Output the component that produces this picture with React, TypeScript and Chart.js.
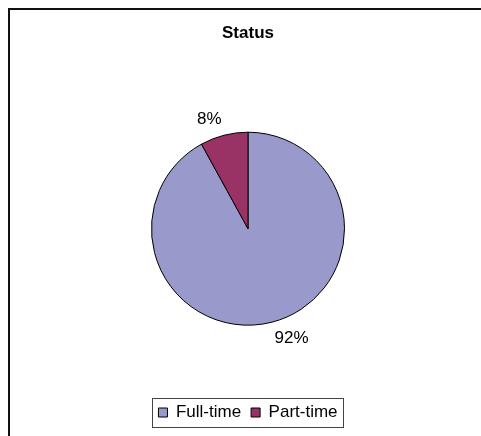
import React, { useEffect, useRef } from "react";
import { Chart, registerables } from "chart.js";

Chart.register(...registerables);

const categories = ["Full-time", "Part-time"];
const values = [92, 8];
const percentLabels = ["92%", "8%"];
const sliceColors = ["#9999CC", "#993366"];
const chartTitle = "Status";

const FONT = "'Liberation Sans', Arial, sans-serif";

const outsideLabels = {
  id: "outsideLabels",
  afterDatasetsDraw(chart: any) {
    const ctx = chart.ctx;
    const meta = chart.getDatasetMeta(0);
    ctx.save();
    ctx.font = `17px ${FONT}`;
    ctx.fillStyle = "#000";
    ctx.textAlign = "center";
    ctx.textBaseline = "middle";
    meta.data.forEach((arc: any, i: number) => {
      const p = arc.getProps(["x", "y", "startAngle", "endAngle", "outerRadius"], true);
      const mid = (p.startAngle + p.endAngle) / 2;
      const dx = Math.cos(mid);
      const dy = Math.sin(mid);
      const r = p.outerRadius + 10;
      const text = percentLabels[i];
      const w = ctx.measureText(text).width;
      const tx = p.x + dx * r + Math.sign(dx) * w / 2;
      const ty = p.y + dy * r + Math.sign(dy) * 6;
      ctx.fillText(text, tx, ty);
    });
    ctx.restore();
  },
};

const legendFrame = {
  id: "legendFrame",
  afterDraw(chart: any) {
    const lg = chart.legend;
    if (!lg || !lg.legendHitBoxes || !lg.legendHitBoxes.length) return;
    const boxes = lg.legendHitBoxes;
    let minX = Infinity, maxX = -Infinity, minY = Infinity, maxY = -Infinity;
    boxes.forEach((b: any) => {
      minX = Math.min(minX, b.left);
      maxX = Math.max(maxX, b.left + b.width);
      minY = Math.min(minY, b.top);
      maxY = Math.max(maxY, b.top + b.height);
    });
    const ctx = chart.ctx;
    ctx.save();
    ctx.strokeStyle = "#444";
    ctx.lineWidth = 1;
    ctx.strokeRect(Math.round(minX - 6) + 0.5, Math.round(minY - 6) + 0.5, Math.round(maxX - minX + 12), Math.round(maxY - minY + 12));
    ctx.restore();
  },
};

export default function App() {
  const ref = useRef<HTMLCanvasElement | null>(null);
  useEffect(() => {
    if (!ref.current) return;
    Chart.defaults.font.family = FONT;
    const chart = new Chart(ref.current, {
      type: "pie",
      data: {
        labels: categories,
        datasets: [
          {
            data: values,
            backgroundColor: sliceColors,
            borderColor: "#000",
            borderWidth: 1,
            radius: 96.5,
          } as any,
        ],
      },
      options: {
        responsive: false,
        animation: false,
        layout: { padding: { left: 5, right: 0, top: 0, bottom: 5 } },
        plugins: {
          title: {
            display: true,
            text: chartTitle,
            color: "#000",
            font: { family: FONT, size: 17, weight: "bold" },
            padding: { top: 13, bottom: 20 },
          },
          legend: {
            position: "bottom",
            labels: {
              color: "#000",
              font: { family: FONT, size: 17 },
              boxWidth: 9,
              boxHeight: 9,
              padding: 10,
            },
          },
          tooltip: { enabled: false },
        },
      },
      plugins: [outsideLabels, legendFrame],
    });
    return () => chart.destroy();
  }, []);
  return (
    <div
      style={{
        position: "fixed",
        left: 8,
        top: 8,
        width: 473,
        height: 428,
        borderTop: "2px solid #111",
        borderLeft: "2px solid #111",
        boxSizing: "border-box",
        background: "#fff",
        overflow: "hidden",
      }}
    >
      <canvas ref={ref} width={471} height={426} style={{ display: "block" }} />
    </div>
  );
}
